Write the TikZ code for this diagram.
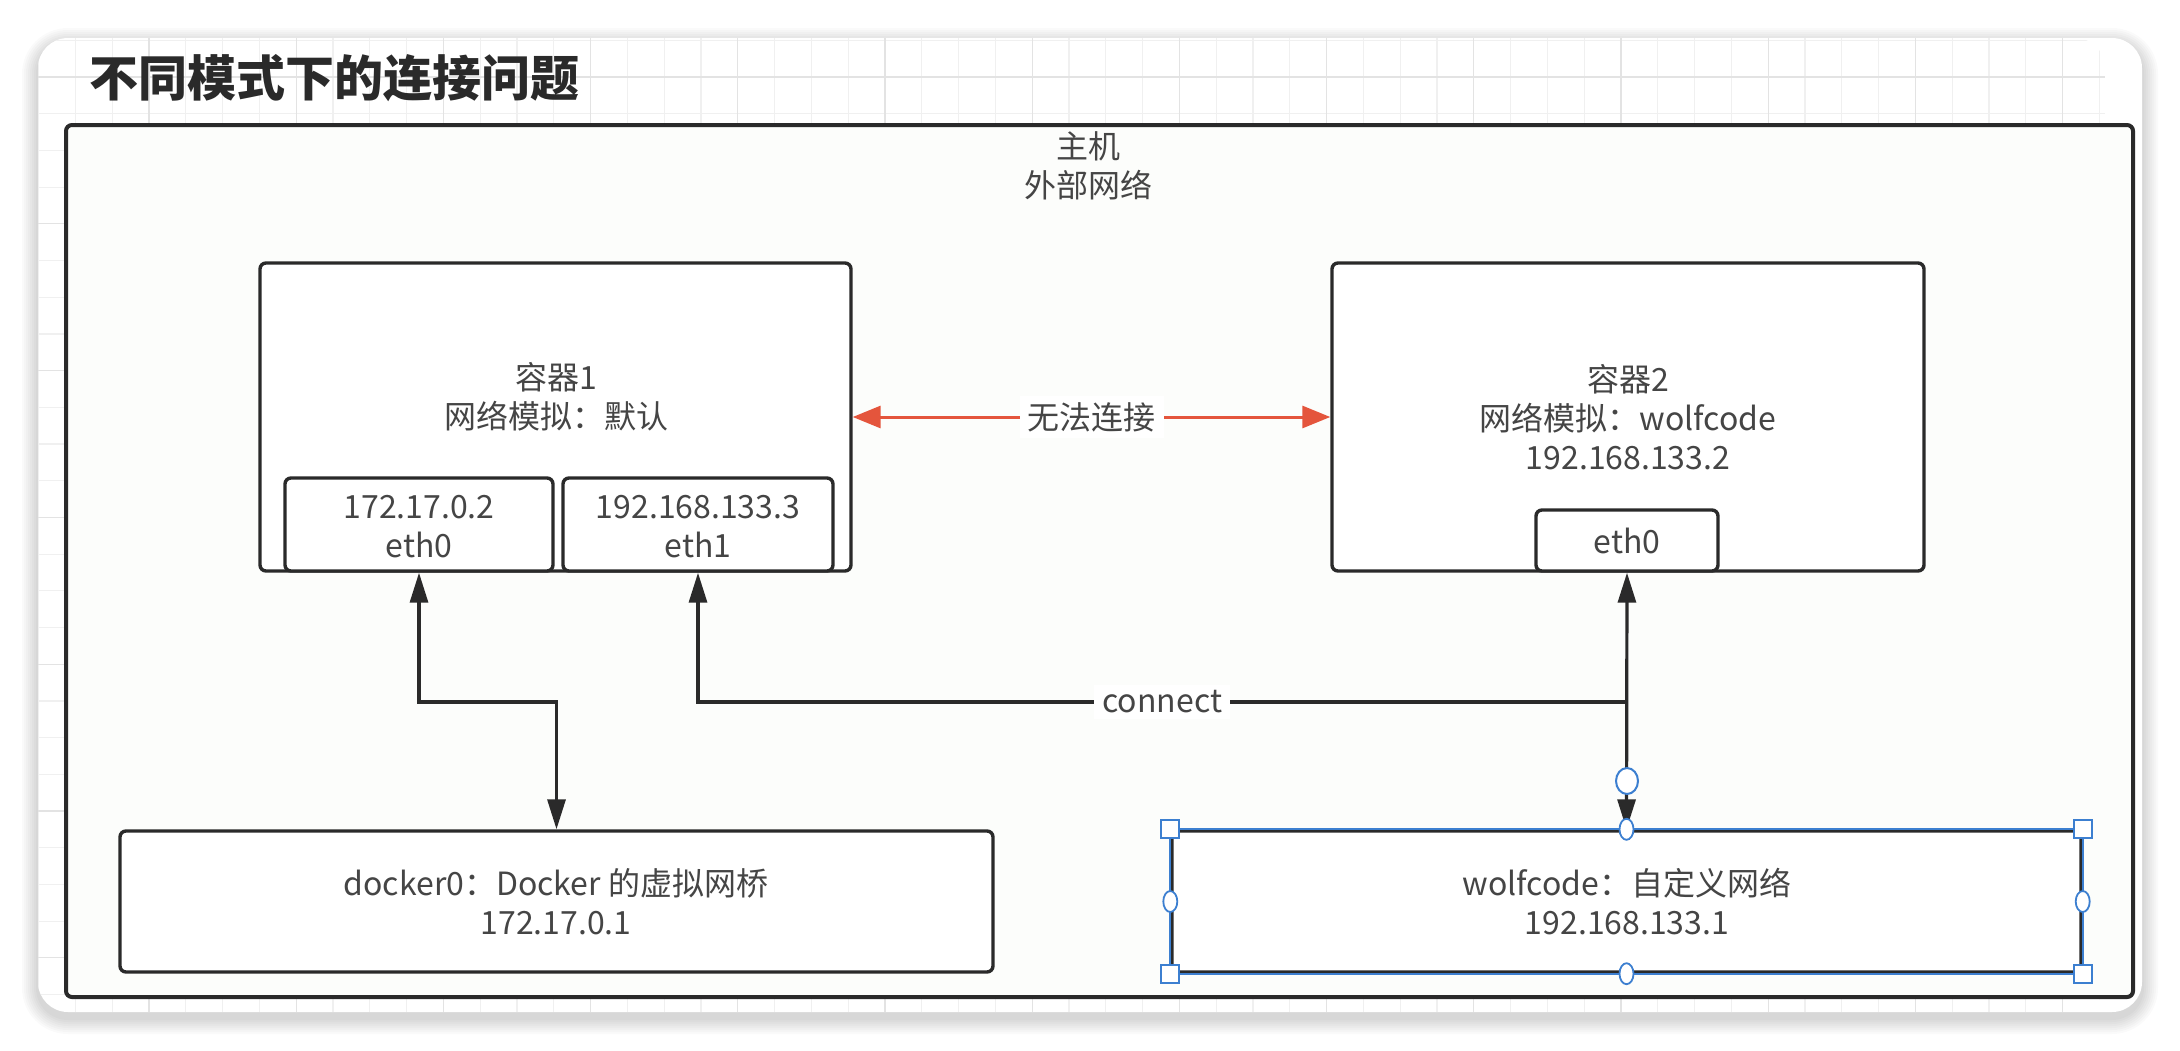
\documentclass[tikz,border=0pt]{standalone}
\usepackage{fontspec}
\setmainfont{Noto Sans CJK SC}
\usetikzlibrary{arrows.meta,fit,shapes.geometric}
\definecolor{ink}{HTML}{2A2A2A}
\definecolor{txt}{HTML}{454545}
\definecolor{redarrow}{HTML}{E4553C}
\definecolor{selblue}{HTML}{3C7FD0}
\definecolor{gridminor}{HTML}{F0F0F0}
\definecolor{gridmajor}{HTML}{E3E3E3}
\begin{document}
\begin{tikzpicture}[x=0.5pt,y=-0.5pt,
  box/.style={draw=ink, line width=1.7pt, rounded corners=3pt, fill=white, inner sep=0pt},
  lbl/.style={text=txt, font=\fontsize{16}{19.5}\selectfont, align=center, inner sep=0pt},
  conn/.style={draw=ink, line width=1.6pt},
  redarr/.style={draw=redarrow, line width=1.5pt, {Triangle[length=14pt,width=11pt]}-{Triangle[length=14pt,width=11pt]}},
  sqh/.style={draw=selblue, fill=white, line width=0.9pt, minimum size=9pt, inner sep=0pt},
  rdh/.style={draw=selblue, fill=white, line width=0.9pt, ellipse, minimum width=7pt, minimum height=10.5pt, inner sep=0pt}
]
\useasboundingbox (0,0) rectangle (2180,1050);
\fill[white] (0,0) rectangle (2180,1050);
% card shadow
\foreach \s in {2,4,...,16}
  \fill[black, opacity=0.018, rounded corners={15pt+\s*0.5pt}] ({38-\s},{38-\s+6}) rectangle ({2142+\s},{1012+\s+6});
\fill[white, rounded corners=15pt] (38,38) rectangle (2142,1012);
% grid
\begin{scope}
  \clip[rounded corners=15pt] (38,38) rectangle (2105,1012);
  \foreach \i in {0,...,56} \draw[gridminor, line width=0.6pt] ({38.6+\i*36.8},38) -- ++(0,974);
  \foreach \j in {0,...,26} \draw[gridminor, line width=0.6pt] (38,{40.3+\j*36.7}) -- ++(2067,0);
  \foreach \i in {0,...,13} \draw[gridmajor, line width=0.6pt] ({149+\i*147.2},38) -- ++(0,974);
  \foreach \j in {0,...,6} \draw[gridmajor, line width=0.6pt] (38,{77+\j*146.8}) -- ++(2067,0);
\end{scope}
% title
\node[anchor=west, inner sep=0pt, text=ink, font=\fontsize{24.5}{28}\selectfont\bfseries] (title) at (89,78) {不同模式下的连接问题};
% host box
\node[box, line width=2pt, fill={rgb,255:red,252;green,253;blue,251}, fit={(66,125) (2133,997)}] (host) {};
\node[lbl] (hostlbl) at (1088,166) {主机\\外部网络};
% container 1
\node[box, fit={(260,263) (851,571)}] (c1) {};
\node[lbl] (c1lbl) at (556,397) {容器1\\网络模拟：默认};
\node[box, fit={(285,478) (553,571)}] (c1e0) {};
\node[lbl] (c1e0lbl) at (419,527) {172.17.0.2\\eth0};
\node[box, fit={(563,478) (833,571)}] (c1e1) {};
\node[lbl] (c1e1lbl) at (698,527) {192.168.133.3\\eth1};
% container 2
\node[box, fit={(1332,263) (1924,571)}] (c2) {};
\node[lbl] (c2lbl) at (1628,417) {容器2\\网络模拟：wolfcode\\192.168.133.2};
\node[box, fit={(1536,510) (1718,571)}] (c2e0) {};
\node[lbl] (c2e0lbl) at (1627,541) {eth0};
% bottom networks
\node[box, fit={(120,831) (993,972)}] (d0) {};
\node[lbl] (d0lbl) at (556,902) {docker0：Docker 的虚拟网桥\\172.17.0.1};
\node[box, fit={(1172,831) (2081,972)}] (wc) {};
\draw[selblue, line width=0.9pt] (wc.north west) rectangle (wc.south east);
\node[lbl] (wclbl) at (1627,902) {wolfcode：自定义网络\\192.168.133.1};
% connectors
\coordinate (elbow) at (0,702);
\draw[redarr] (c1.east) -- node[lbl, fill=white, inner xsep=4pt, inner ysep=3pt] (nolink) {无法连接} (c2.west);
\draw[conn, {Triangle[length=15pt,width=9pt]}-{Triangle[length=15pt,width=9pt]}] (c1e0.south) -- (c1e0.south |- elbow) -| (d0.north);
\draw[conn, {Triangle[length=15pt,width=9pt]}-{Triangle[length=15pt,width=9pt]}] (c2e0.south) -- (wc.north);
\coordinate (jn) at (wc.north |- elbow);
\draw[conn, -{Triangle[length=15pt,width=9pt]}] (jn) -- node[lbl, fill=white, inner xsep=4pt, inner ysep=3pt] (connlbl) {connect} (jn -| c1e1.south) -- (c1e1.south);
% selection handles
\node[sqh] (hnw) at (wc.north west) {};
\node[sqh] (hne) at (wc.north east) {};
\node[sqh] (hsw) at (wc.south west) {};
\node[sqh] (hse) at (wc.south east) {};
\node[rdh] (hn) at (wc.north) {};
\node[rdh] (hs) at (wc.south) {};
\node[rdh] (hw) at (wc.west) {};
\node[rdh] (he) at (wc.east) {};
\node[draw=selblue, fill=white, line width=1pt, ellipse, minimum width=11pt, minimum height=13pt, inner sep=0pt] (hc) at (1627,781) {};
\end{tikzpicture}
\end{document}
